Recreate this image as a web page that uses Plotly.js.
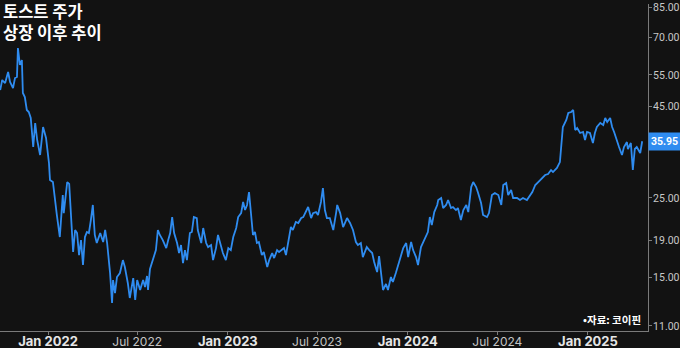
<!DOCTYPE html>
<html>
<head>
<meta charset="utf-8">
<script src="https://cdn.plot.ly/plotly-3.0.1.min.js"></script>
<style>
html,body{margin:0;padding:0;background:#121212;}
#chart{width:680px;height:348px;}
</style>
</head>
<body>
<div id="chart"></div>
<script>
// Toast (TOST) share price since IPO, USD
const dates = [
"2021-09-26","2021-09-30","2021-10-06","2021-10-12","2021-10-16","2021-10-22","2021-10-26","2021-10-30",
"2021-11-01","2021-11-05","2021-11-09","2021-11-11","2021-11-15","2021-11-19","2021-11-23","2021-11-27",
"2021-12-02","2021-12-06","2021-12-10","2021-12-16","2021-12-22","2021-12-28",
"2022-01-03","2022-01-05","2022-01-11","2022-01-15","2022-01-19","2022-01-25","2022-01-31","2022-02-02",
"2022-02-09","2022-02-13","2022-02-17","2022-02-21","2022-02-25","2022-03-01","2022-03-05","2022-03-09",
"2022-03-13","2022-03-17","2022-03-21","2022-03-25","2022-03-29","2022-04-02","2022-04-06","2022-04-10",
"2022-04-17","2022-04-23","2022-04-27","2022-05-01","2022-05-07","2022-05-11","2022-05-13","2022-05-17",
"2022-05-21","2022-05-27","2022-06-02","2022-06-06","2022-06-12","2022-06-16","2022-06-23","2022-06-27",
"2022-07-01","2022-07-07","2022-07-13","2022-07-17","2022-07-21","2022-07-23","2022-07-27","2022-08-02",
"2022-08-08","2022-08-12","2022-08-16","2022-08-22","2022-08-29","2022-09-02","2022-09-06","2022-09-10",
"2022-09-14","2022-09-20","2022-09-24","2022-09-28","2022-10-02","2022-10-06","2022-10-10","2022-10-16",
"2022-10-20","2022-10-24","2022-10-30","2022-11-01","2022-11-08","2022-11-12","2022-11-18","2022-11-22",
"2022-11-28","2022-12-02","2022-12-08","2022-12-12","2022-12-18","2022-12-22","2022-12-28",
"2023-01-02","2023-01-07","2023-01-12","2023-01-18","2023-01-22","2023-01-28","2023-02-01","2023-02-05",
"2023-02-09","2023-02-13","2023-02-17","2023-02-21","2023-02-25","2023-03-01","2023-03-05","2023-03-11",
"2023-03-15","2023-03-22","2023-03-26","2023-04-01","2023-04-05","2023-04-11","2023-04-15","2023-04-21",
"2023-04-25","2023-04-29","2023-05-03","2023-05-09","2023-05-13","2023-05-19","2023-05-24","2023-05-30",
"2023-06-03","2023-06-09","2023-06-13","2023-06-19","2023-06-23","2023-06-29","2023-07-03","2023-07-09",
"2023-07-13","2023-07-17","2023-07-21","2023-07-27","2023-08-03","2023-08-09","2023-08-11","2023-08-17",
"2023-08-23","2023-08-31","2023-09-06","2023-09-12","2023-09-18","2023-09-22","2023-09-28","2023-10-02",
"2023-10-10","2023-10-15","2023-10-21","2023-10-25","2023-10-31","2023-11-04","2023-11-10","2023-11-12",
"2023-11-18","2023-11-22","2023-11-28","2023-12-02","2023-12-08","2023-12-13","2023-12-19","2023-12-23",
"2023-12-29",
"2024-01-02","2024-01-08","2024-01-12","2024-01-18","2024-01-22","2024-01-28","2024-02-01","2024-02-07",
"2024-02-11","2024-02-15","2024-02-19","2024-02-24","2024-03-01","2024-03-03","2024-03-09","2024-03-13",
"2024-03-19","2024-03-23","2024-03-29","2024-04-02","2024-04-08","2024-04-12","2024-04-18","2024-04-23",
"2024-04-29","2024-05-03","2024-05-09","2024-05-13","2024-05-19","2024-05-23","2024-05-29","2024-06-02",
"2024-06-10","2024-06-14","2024-06-20","2024-06-26","2024-07-03","2024-07-09","2024-07-13","2024-07-19",
"2024-07-23","2024-07-29","2024-08-02","2024-08-10","2024-08-16","2024-08-22","2024-08-30","2024-09-10",
"2024-09-16","2024-09-22","2024-09-30","2024-10-06","2024-10-12","2024-10-18","2024-10-22","2024-10-30",
"2024-11-05","2024-11-09","2024-11-11","2024-11-18","2024-11-22","2024-11-28","2024-12-02","2024-12-06",
"2024-12-10","2024-12-16","2024-12-22","2024-12-26","2024-12-30",
"2025-01-05","2025-01-11","2025-01-15","2025-01-19","2025-01-26","2025-02-01","2025-02-05","2025-02-09",
"2025-02-15","2025-02-19","2025-02-23","2025-03-01","2025-03-05","2025-03-11","2025-03-15","2025-03-21",
"2025-03-23","2025-03-29","2025-04-02","2025-04-06","2025-04-10","2025-04-17","2025-04-21"
];
const prices = [
49.92,53.23,52.21,56.03,52.55,50.56,53.91,54.26,
65.35,58.61,60.52,48.97,47.73,43.92,43.36,41.72,
34.64,40.40,36.24,32.91,39.38,36.70,
31.26,28.04,27.68,24.35,22.40,19.45,25.47,22.68,
27.68,27.33,22.11,17.67,20.35,19.96,17.33,19.08,
16.26,19.45,20.09,19.96,21.69,23.89,19.71,18.72,
19.96,18.84,20.35,18.72,15.44,12.74,14.76,13.58,
15.05,15.44,16.78,16.05,14.49,13.16,14.95,12.99,
14.76,13.85,14.76,14.12,15.15,13.85,15.85,16.78,
17.89,20.35,19.71,19.08,18.12,19.08,19.96,22.11,
19.96,18.72,17.56,18.48,16.46,17.89,16.78,19.96,
20.09,22.11,21.97,20.35,18.72,20.61,18.72,18.24,
18.48,16.78,18.12,19.71,18.48,17.56,16.78,
18.12,17.89,19.45,20.61,22.11,22.68,24.35,23.13,
23.89,25.96,22.11,19.71,20.09,18.72,18.84,17.33,
17.67,16.05,16.78,17.56,17.00,17.89,17.67,17.89,
18.12,17.33,18.84,20.74,20.35,21.42,21.28,21.97,
22.11,23.13,23.58,21.97,22.68,22.83,22.40,24.35,
26.63,23.13,21.97,21.97,20.35,22.83,23.89,22.68,
20.74,21.97,21.28,20.35,18.84,18.48,18.72,17.11,
18.24,17.89,17.56,16.57,15.54,17.22,14.49,13.85,
14.40,13.85,15.05,14.58,15.44,16.26,17.56,18.12,
18.72,
17.11,18.84,17.89,17.11,16.26,18.24,18.72,19.45,
20.09,22.11,21.01,22.83,23.89,24.66,24.98,23.43,
23.89,24.66,23.43,23.58,23.13,23.43,21.69,23.13,
23.89,22.83,26.80,27.68,26.80,25.79,24.19,22.40,
22.11,22.68,25.47,25.79,25.47,23.89,27.15,27.50,
25.47,26.29,24.98,24.98,24.66,24.98,24.66,25.96,
27.15,27.68,28.40,28.95,29.14,29.89,29.51,30.28,
31.46,36.24,39.38,41.19,43.08,43.36,43.92,38.63,
39.13,37.90,38.14,36.24,38.14,
37.90,35.54,37.90,39.38,40.40,39.89,41.72,40.66,
41.72,39.38,38.14,35.77,34.64,32.91,34.64,35.77,
34.20,35.54,29.89,34.20,34.64,33.34,35.95
];
// 35.00 sits under the last-price badge in the reference, so it is not labelled
const tickVals = [11,15,19,25,45,55,70,85];
const tickDates = ["2022-01-01","2022-07-01","2023-01-01","2023-07-01","2024-01-01","2024-07-01","2025-01-01"];
const tickNames = ["Jan 2022","Jul 2022","Jan 2023","Jul 2023","Jan 2024","Jul 2024","Jan 2025"];
const titleLines = ["토스트 주가","상장 이후 추이"];
const sourceNote = "•자료: 코이핀";

const lineColor = "#2f8cf0";
const lastPrice = prices[prices.length-1];
const yTickFont = {size: 10.5, color: "#c8c8c8", family: "Roboto, sans-serif"};
const titleFont = {family: "'Noto Sans CJK KR', sans-serif", size: 16.5, color: "#ffffff"};

const tickText = tickNames.map(t => t.startsWith("Jan")
  ? '<b><span style="font-size:13px;color:#e6e6e6">'+t+'</span></b>'
  : '<span style="font-size:12px;color:#c4c4c4">'+t+'</span>');

const trace = {
  x: dates, y: prices, type: "scatter", mode: "lines",
  line: {color: lineColor, width: 1.8}, hoverinfo: "skip"
};

const layout = {
  width: 680, height: 348,
  paper_bgcolor: "#121212", plot_bgcolor: "#121212",
  margin: {l: 0, r: 32, t: 4, b: 17, pad: 0},
  showlegend: false,
  font: {family: "Inter, 'Noto Sans CJK KR', sans-serif", color: "#d0d0d0"},
  xaxis: {
    type: "date",
    range: ["2021-09-25 14:00", "2025-05-02 19:00"],
    tickvals: tickDates, ticktext: tickText,
    showgrid: false, zeroline: false,
    showline: true, linecolor: "#7a7a7a", linewidth: 1,
    ticks: "outside", ticklen: 3, tickcolor: "#7a7a7a",
    ticklabelstandoff: -3,
    tickfont: {size: 12, color: "#e0e0e0", family: "Inter, sans-serif"},
    fixedrange: true
  },
  yaxis: {
    type: "log", side: "right",
    range: [Math.log10(10.65), Math.log10(86.65)],
    tickvals: tickVals, ticktext: tickVals.map(v => v.toFixed(2)),
    showgrid: false, zeroline: false,
    showline: true, linecolor: "#7a7a7a", linewidth: 1,
    ticks: "outside", ticklen: 3, tickcolor: "#7a7a7a",
    ticklabelstandoff: -1,
    tickfont: yTickFont,
    fixedrange: true
  },
  annotations: [
    {
      xref: "paper", yref: "paper", x: 0, y: (331 - 11.5) / 327, xanchor: "left", yanchor: "middle",
      xshift: 2, text: "<b>" + titleLines[0] + "</b>", showarrow: false, borderpad: 0, font: titleFont
    },
    {
      xref: "paper", yref: "paper", x: 0, y: (331 - 32) / 327, xanchor: "left", yanchor: "middle",
      xshift: 2, text: "<b>" + titleLines[1] + "</b>", showarrow: false, borderpad: 0, font: titleFont
    },
    {
      xref: "paper", yref: "paper", x: 1, y: 0, xanchor: "right", yanchor: "bottom",
      xshift: -5, yshift: 2,
      text: "<b>" + sourceNote + "</b>", showarrow: false,
      font: {family: "'Noto Sans CJK KR', sans-serif", size: 10.5, color: "#ffffff"}
    },
    {
      xref: "paper", yref: "y", x: 1, y: Math.log10(lastPrice), xanchor: "left", yanchor: "middle",
      text: "<b>" + lastPrice.toFixed(2) + "</b>", showarrow: false,
      bgcolor: lineColor, borderpad: 2,
      font: {family: "Roboto, sans-serif", size: 10.5, color: "#ffffff"}
    }
  ]
};

Plotly.newPlot("chart", [trace], layout, {displayModeBar: false, staticPlot: true}).then(gd => {
  // if Plotly dropped the top tick label (too close to the page edge), draw it as an annotation
  const labels = Array.from(gd.querySelectorAll(".ytick text")).map(t => t.textContent);
  const missing = tickVals.filter(v => !labels.includes(v.toFixed(2)));
  if (missing.length) {
    const extra = missing.map(v => ({
      xref: "paper", yref: "y", x: 1, y: Math.log10(v), xanchor: "left", yanchor: "middle",
      xshift: 2, text: v.toFixed(2), showarrow: false, borderpad: 0, font: yTickFont
    }));
    Plotly.relayout(gd, {annotations: layout.annotations.concat(extra)});
  }
});
</script>
</body>
</html>
